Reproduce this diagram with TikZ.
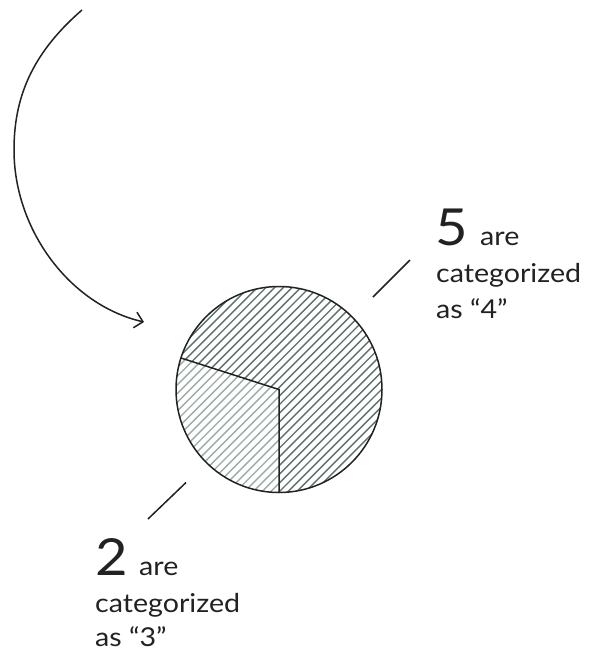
\documentclass[tikz,border=0pt]{standalone}
\usepackage{fontspec}
\setmainfont{Lato}[FakeStretch=1.1]
\usetikzlibrary{arrows.meta}
\definecolor{ink}{HTML}{222222}
\definecolor{hatchdark}{HTML}{5E716C}
\definecolor{hatchlight}{HTML}{9CABA6}
\tikzset{
  outline/.style={draw=ink, line width=1.5pt},
  hatchline/.style={line width=1.4pt},
  big/.style={anchor=base west, inner sep=0pt, text=ink, font=\fontsize{51}{51}\selectfont},
  small/.style={anchor=base west, inner sep=0pt, text=ink, font=\fontsize{26}{26}\selectfont},
}
\begin{document}
\begin{tikzpicture}[x=1pt,y=-1pt]
\useasboundingbox (0,0) rectangle (592,651);
\fill[white] (0,0) rectangle (592,651);

\coordinate (C) at (279,389.5);
\coordinate (L) at (181,358);
\coordinate (B) at (279,492.5);

% dark hatching on whole disc
\begin{scope}
  \clip (C) circle[radius=103];
  \foreach \k in {510,518.7,...,830} {
    \draw[hatchline, hatchdark] (\k-270,270) -- (\k-510,510);
  }
\end{scope}
% light hatching on wedge
\begin{scope}
  \path[clip] (C) -- (L) arc[start angle=197.8, end angle=90, radius=103] -- cycle;
  \fill[white] (150,270) rectangle (400,510);
  \foreach \k in {510,518.7,...,830} {
    \draw[hatchline, hatchlight] (\k-270,270) -- (\k-510,510);
  }
\end{scope}
\draw[outline] (C) circle[radius=103];
\draw[outline] (L) -- (C) -- (B);

% curved arrow
\coordinate (s) at (82,10);
\coordinate (t) at (144,322);
\draw[ink, line width=1.5pt, -{Straight Barb[length=8pt,width=16pt,line width=1.5pt]}]
  (s) .. controls (30,55) and (14,100) .. (14,150)
      .. controls (14,230) and (70,305) .. (t);

% right label
\node[big] (n5) at (435,245.7) {5};
\node[small] (are1) at (480,245.7) {are};
\node[small] (cat1) at (436,282.3) {categorized};
\node[small] (as1) at (436,318.5) {as “4”};
\coordinate (r1) at (373,297);
\coordinate (r2) at (410,260);
\draw[ink, line width=1.5pt] (r1) -- (r2);

% left label
\node[big] (n2) at (95,575.7) {2};
\node[small] (are2) at (139,575.7) {are};
\node[small] (cat2) at (95,612.7) {categorized};
\node[small, text depth=0pt] (as2) at (95,646.5) {as “3”};
\coordinate (l1) at (148,519);
\coordinate (l2) at (186,482.5);
\draw[ink, line width=1.5pt] (l1) -- (l2);
\end{tikzpicture}
\end{document}
